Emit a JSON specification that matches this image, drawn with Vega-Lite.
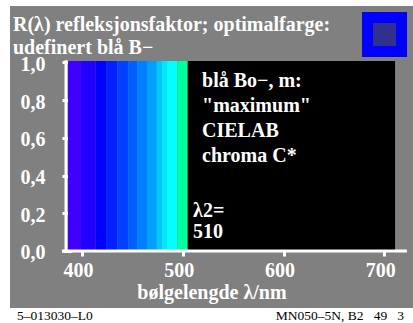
{
  "$schema": "https://vega.github.io/schema/vega-lite/v6.json",
  "width": 403,
  "height": 302,
  "autosize": {"type": "none"},
  "padding": {"left": 10, "top": 6, "right": 0, "bottom": 15},
  "background": "white",
  "config": {
    "view": {"fill": "#808080", "stroke": null},
    "font": "Liberation Serif"
  },
  "title": {
    "text": ["R(λ) refleksjonsfaktor; optimalfarge:", "udefinert blå B−"],
    "anchor": "start",
    "frame": "group",
    "orient": "top",
    "offset": -52,
    "dx": 3,
    "font": "Liberation Serif",
    "fontSize": 20,
    "fontWeight": "bold",
    "color": "white",
    "lineHeight": 23
  },
  "data": {
    "values": [
      {"band": "b01", "from": 386.1, "to": 399.0},
      {"band": "b02", "from": 399.0, "to": 413.6},
      {"band": "b03", "from": 413.6, "to": 424.5},
      {"band": "b04", "from": 424.5, "to": 435.0},
      {"band": "b05", "from": 435.0, "to": 446.0},
      {"band": "b06", "from": 446.0, "to": 454.9},
      {"band": "b07", "from": 454.9, "to": 464.8},
      {"band": "b08", "from": 464.8, "to": 474.1},
      {"band": "b09", "from": 474.1, "to": 479.1},
      {"band": "b10", "from": 479.1, "to": 484.1},
      {"band": "b11", "from": 484.1, "to": 494.6},
      {"band": "b12", "from": 494.6, "to": 504.9},
      {"band": "null", "from": 504.9, "to": 710.7}
    ]
  },
  "layer": [
    {
      "mark": {"type": "rect"},
      "encoding": {
        "x": {
          "field": "from",
          "type": "quantitative",
          "scale": {"domain": [328.5, 728.5], "nice": false, "zero": false},
          "axis": {
            "orient": "bottom",
            "offset": -63,
            "values": [400, 500, 600, 700],
            "domain": false,
            "grid": false,
            "tickSize": 11,
            "tickWidth": 3,
            "tickColor": "white",
            "labelFont": "Liberation Serif",
            "labelFontSize": 20,
            "labelFontWeight": "bold",
            "labelColor": "white",
            "labelPadding": 4,
            "labelOffset": -4,
            "labelFlush": false,
            "title": "bølgelengde λ/nm",
            "titleFont": "Liberation Serif",
            "titleFontSize": 20,
            "titleFontWeight": "bold",
            "titleColor": "white",
            "titlePadding": 2
          }
        },
        "x2": {"field": "to"},
        "y": {
          "datum": 0,
          "type": "quantitative",
          "scale": {"domain": [-0.3024, 1.2997], "nice": false, "zero": false},
          "axis": {
            "orient": "left",
            "offset": -62,
            "values": [0, 0.2, 0.4, 0.6, 0.8, 1.0],
            "domain": false,
            "grid": false,
            "tickSize": 10,
            "tickWidth": 3,
            "tickColor": "white",
            "labelFont": "Liberation Serif",
            "labelFontSize": 20,
            "labelFontWeight": "bold",
            "labelColor": "white",
            "labelPadding": 17,
            "labelOffset": 2,
            "labelExpr": "replace(format(datum.value, '.1f'), '.', ',')",
            "title": null
          }
        },
        "y2": {"datum": 1.008},
        "color": {
          "field": "band",
          "type": "nominal",
          "legend": null,
          "scale": {
            "domain": ["b01", "b02", "b03", "b04", "b05", "b06", "b07", "b08", "b09", "b10", "b11", "b12", "null"],
            "range": ["#4000ff", "#2000ff", "#0000ff", "#0020ff", "#0040ff", "#0060ff", "#0080ff", "#00a0ff", "#00c8ff", "#00e8ff", "#00ffff", "#00ffa0", "#000000"]
          }
        }
      }
    },
    {
      "data": {"values": [{"swatch": "outer"}]},
      "mark": {"type": "rect", "color": "#0000ff"},
      "encoding": {
        "x": {"datum": 677.9, "type": "quantitative"},
        "x2": {"datum": 722.6},
        "y": {"datum": 1.029, "type": "quantitative"},
        "y2": {"datum": 1.268}
      }
    },
    {
      "data": {"values": [{"swatch": "inner"}]},
      "mark": {"type": "rect", "color": "#30308f"},
      "encoding": {
        "x": {"datum": 688.8, "type": "quantitative"},
        "x2": {"datum": 711.7},
        "y": {"datum": 1.0875, "type": "quantitative"},
        "y2": {"datum": 1.2095}
      }
    },
    {
      "data": {"values": [{"axis": "y"}]},
      "mark": {"type": "rule", "color": "white", "strokeWidth": 3},
      "encoding": {
        "x": {"datum": 384.1, "type": "quantitative"},
        "y": {"datum": -0.008, "type": "quantitative"},
        "y2": {"datum": 1.012}
      }
    },
    {
      "data": {"values": [{"axis": "x"}]},
      "mark": {"type": "rule", "color": "white", "strokeWidth": 3},
      "encoding": {
        "x": {"datum": 380.1, "type": "quantitative"},
        "x2": {"datum": 722.5},
        "y": {"datum": 0, "type": "quantitative"}
      }
    },
    {
      "data": {"values": [{"note": "chroma"}]},
      "mark": {
        "type": "text",
        "text": ["blå Bo−, m:", "\"maximum\"", "CIELAB", "chroma C*"],
        "align": "left",
        "baseline": "alphabetic",
        "font": "Liberation Serif",
        "fontSize": 20,
        "fontWeight": "bold",
        "color": "white",
        "lineHeight": 25
      },
      "encoding": {
        "x": {"datum": 519.1, "type": "quantitative"},
        "y": {"datum": 0.87, "type": "quantitative"}
      }
    },
    {
      "data": {"values": [{"note": "lambda2"}]},
      "mark": {
        "type": "text",
        "text": ["λ2=", "510"],
        "align": "left",
        "baseline": "alphabetic",
        "font": "Liberation Serif",
        "fontSize": 20,
        "fontWeight": "bold",
        "color": "white",
        "lineHeight": 21
      },
      "encoding": {
        "x": {"datum": 510.2, "type": "quantitative"},
        "y": {"datum": 0.18, "type": "quantitative"}
      }
    },
    {
      "data": {"values": [{"note": "footer-left"}]},
      "mark": {
        "type": "text",
        "text": "5–013030–L0",
        "align": "left",
        "baseline": "alphabetic",
        "font": "Liberation Serif",
        "fontSize": 13.5,
        "color": "black"
      },
      "encoding": {
        "x": {"datum": 335.5, "type": "quantitative"},
        "y": {"datum": -0.366, "type": "quantitative"}
      }
    },
    {
      "data": {"values": [{"note": "footer-right"}]},
      "mark": {
        "type": "text",
        "text": "MN050–5N, B2\u00a0\u00a0\u00a049\u00a0\u00a0\u00a03",
        "align": "right",
        "baseline": "alphabetic",
        "font": "Liberation Serif",
        "fontSize": 13.5,
        "color": "black"
      },
      "encoding": {
        "x": {"datum": 719.6, "type": "quantitative"},
        "y": {"datum": -0.366, "type": "quantitative"}
      }
    }
  ]
}
